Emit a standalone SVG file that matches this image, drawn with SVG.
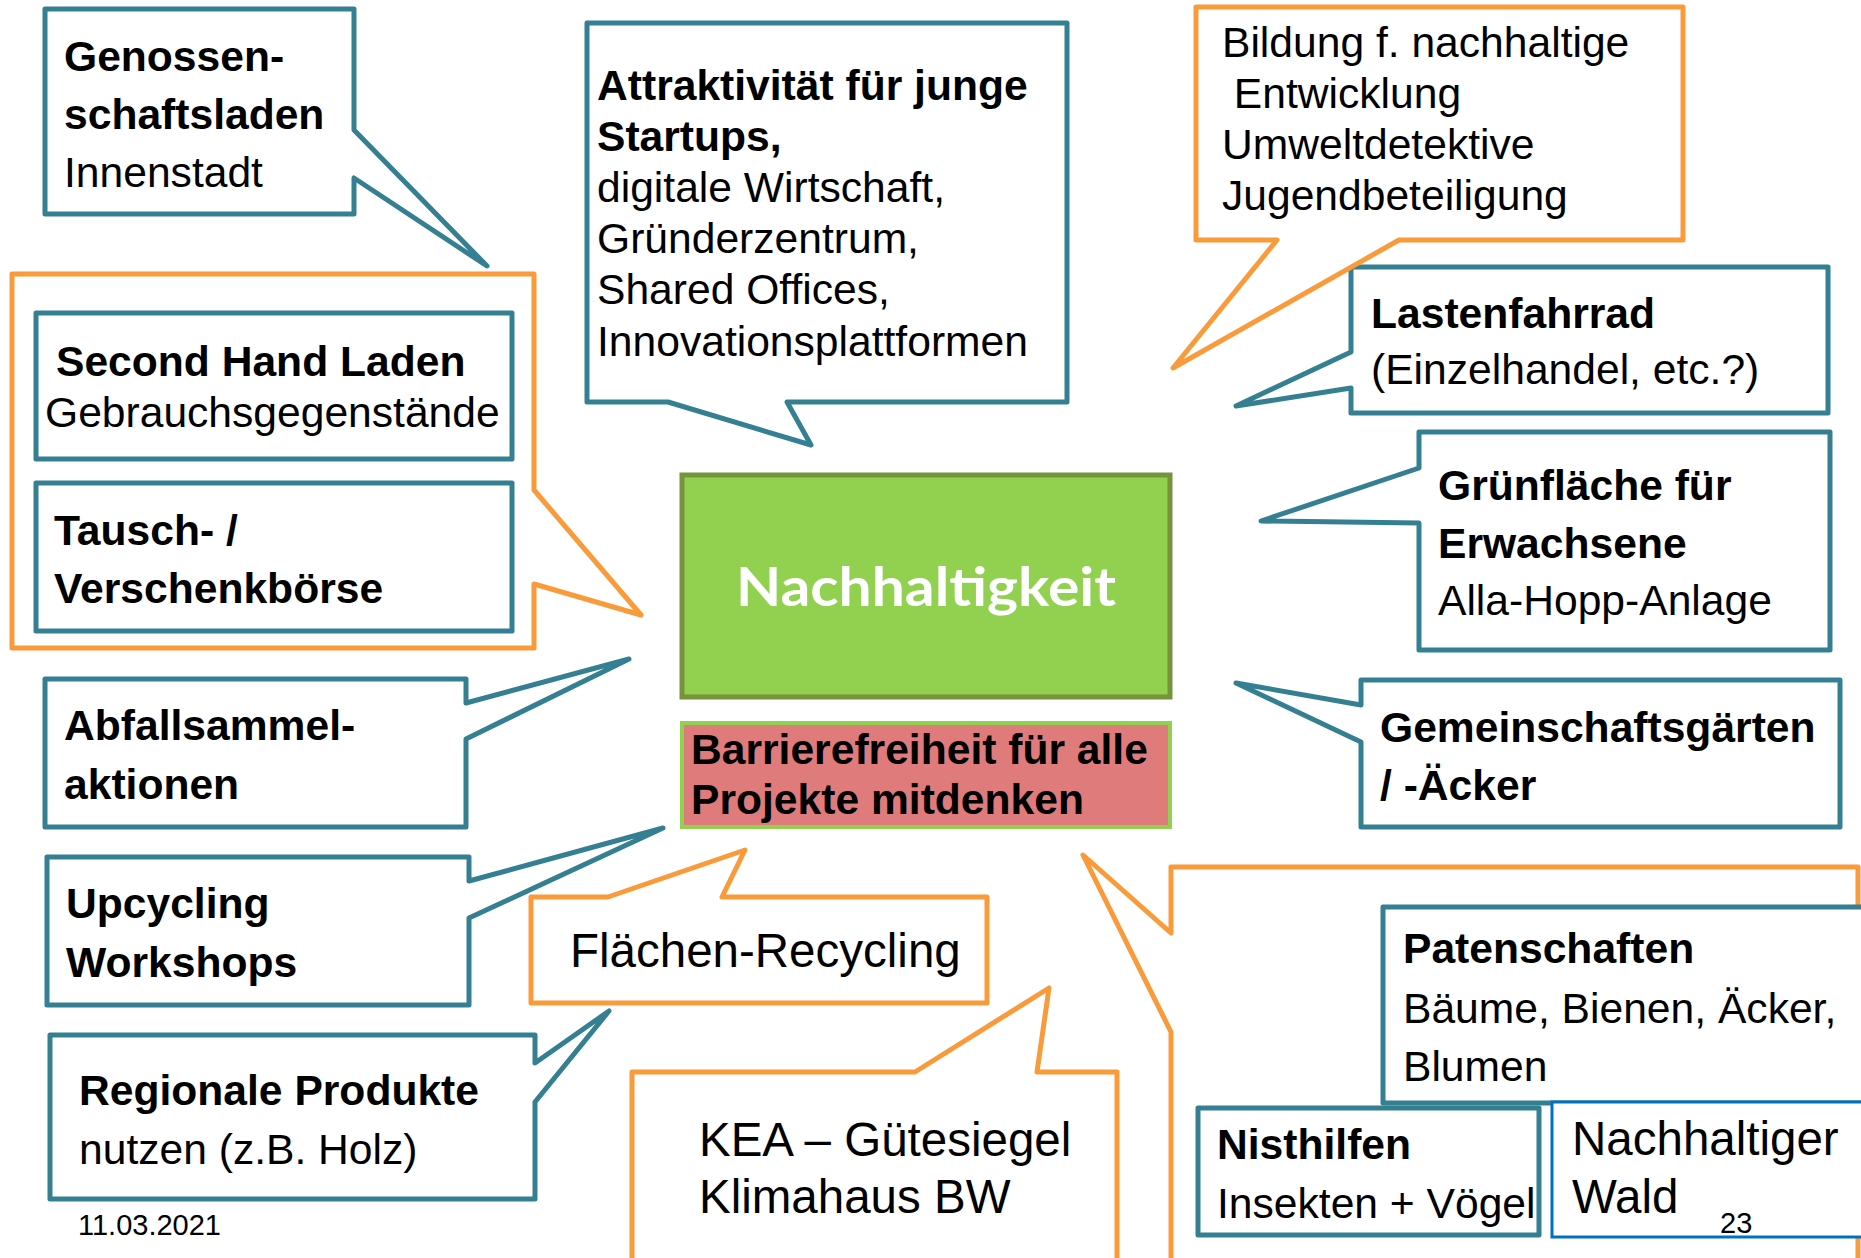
<svg xmlns="http://www.w3.org/2000/svg" width="1861" height="1258" viewBox="0 0 1861 1258">
<style>
.teal{fill:#fff;stroke:#357F92;stroke-width:5;stroke-linejoin:round}
.orange{fill:#fff;stroke:#F99A3B;stroke-width:5;stroke-linejoin:round}
.blue{fill:#fff;stroke:#0070C0;stroke-width:3}
text{font-family:'Liberation Sans',Arial,sans-serif;font-size:42.6px;fill:#000}
.b{font-weight:bold}
.l{font-size:47.5px}
.s{font-size:29px}
</style>
<rect width="1861" height="1258" fill="#fff"/>
<g id="connectors"></g>

<g id="genossenschaftsladen">
<path class="teal" d="M45,9 H354 V130 L487,266 L354,178 V214 H45 Z"/>
<text class="b" x="64" y="71">Genossen-</text>
<text class="b" x="64" y="129">schaftsladen</text>
<text x="64" y="187">Innenstadt</text>
</g>

<g id="tausch-gruppe">
<path class="orange" d="M12,274 H534 V490 L641,615 L534,584 V648 H12 Z"/>
</g>
<g id="second-hand">
<rect class="teal" x="36" y="313" width="476" height="146"/>
<text class="b" x="56" y="376">Second Hand Laden</text>
<text x="45" y="427">Gebrauchsgegenstände</text>
</g>
<g id="tauschboerse">
<rect class="teal" x="36" y="483" width="476" height="148"/>
<text class="b" x="54" y="545">Tausch- /</text>
<text class="b" x="54" y="603">Verschenkbörse</text>
</g>

<g id="startups">
<path class="teal" d="M587,23 H1067 V402 H787 L811,445 L668,402 H587 Z"/>
<text class="b" x="597" y="100">Attraktivität für junge</text>
<text class="b" x="597" y="151">Startups,</text>
<text x="597" y="202">digitale Wirtschaft,</text>
<text x="597" y="253">Gründerzentrum,</text>
<text x="597" y="304">Shared Offices,</text>
<text x="597" y="356">Innovationsplattformen</text>
</g>

<g id="lastenfahrrad">
<path class="teal" d="M1351,267 H1828 V413 H1351 V388 L1236,406 L1351,352 Z"/>
<text class="b" x="1371" y="328">Lastenfahrrad</text>
<text x="1371" y="384">(Einzelhandel, etc.?)</text>
</g>

<g id="bildung">
<path class="orange" d="M1196,7 H1683 V240 H1399 L1173,368 L1277,240 H1196 Z"/>
<text x="1222" y="57">Bildung f. nachhaltige</text>
<text x="1222" y="108" xml:space="preserve"> Entwicklung</text>
<text x="1222" y="159">Umweltdetektive</text>
<text x="1222" y="210">Jugendbeteiligung</text>
</g>

<g id="nachhaltigkeit">
<rect x="682" y="475" width="488" height="222" fill="#92D050" stroke="#77933C" stroke-width="5"/>
<text x="736" y="606" textLength="380" lengthAdjust="spacingAndGlyphs" style="font-family:Lato,'Open Sans',sans-serif;font-weight:bold;font-size:54px;fill:#fff">Nachhaltigkeit</text>
</g>

<g id="barrierefreiheit">
<rect x="682" y="723" width="488" height="104" fill="#E07B7B" stroke="#92D050" stroke-width="4"/>
<text class="b" x="691" y="764">Barrierefreiheit für alle</text>
<text class="b" x="691" y="814">Projekte mitdenken</text>
</g>

<g id="gruenflaeche">
<path class="teal" d="M1419,432 H1830 V650 H1419 V523 L1261,521 L1419,468 Z"/>
<text class="b" x="1438" y="500">Grünfläche für</text>
<text class="b" x="1438" y="558">Erwachsene</text>
<text x="1438" y="615">Alla-Hopp-Anlage</text>
</g>

<g id="gemeinschaftsgaerten">
<path class="teal" d="M1361,680 H1840 V827 H1361 V742 L1236,683 L1361,705 Z"/>
<text class="b" x="1380" y="742">Gemeinschaftsgärten</text>
<text class="b" x="1380" y="800">/ -Äcker</text>
</g>

<g id="abfallsammelaktionen">
<path class="teal" d="M45,679 H466 V703 L629,659 L466,739 V827 H45 Z"/>
<text class="b" x="64" y="740">Abfallsammel-</text>
<text class="b" x="64" y="799">aktionen</text>
</g>

<g id="upcycling">
<path class="teal" d="M47,857 H469 V881 L663,828 L469,918 V1005 H47 Z"/>
<text class="b" x="66" y="918">Upcycling</text>
<text class="b" x="66" y="977">Workshops</text>
</g>

<g id="regionale-produkte">
<path class="teal" d="M50,1035 H535 V1063 L609,1011 L535,1102 V1199 H50 Z"/>
<text class="b" x="79" y="1105">Regionale Produkte</text>
<text x="79" y="1164">nutzen (z.B. Holz)</text>
</g>

<g id="flaechen-recycling">
<path class="orange" d="M531,897 H608 L745,850 L722,897 H987 V1003 H531 Z"/>
<text class="l" x="570" y="967">Flächen-Recycling</text>
</g>

<g id="kea">
<path class="orange" d="M632,1072 H915 L1049,988 L1037,1072 H1117 V1265 H632 Z"/>
<text class="l" x="699" y="1156">KEA – Gütesiegel</text>
<text class="l" x="699" y="1213">Klimahaus BW</text>
</g>

<g id="natur-gruppe">
<path class="orange" d="M1171,867 H1858 V1265 H1171 V1032 L1083,855 L1171,933 Z"/>
</g>
<g id="patenschaften">
<rect class="teal" x="1383" y="907" width="481" height="196"/>
<text class="b" x="1403" y="963">Patenschaften</text>
<text x="1403" y="1023">Bäume, Bienen, Äcker,</text>
<text x="1403" y="1081">Blumen</text>
</g>
<g id="nisthilfen">
<rect class="teal" x="1198" y="1108" width="341" height="127"/>
<text class="b" x="1217" y="1159">Nisthilfen</text>
<text x="1217" y="1218">Insekten + Vögel</text>
</g>
<g id="nachhaltiger-wald">
<rect class="blue" x="1552" y="1102" width="312" height="135"/>
<text class="l" x="1572" y="1155">Nachhaltiger</text>
<text class="l" x="1572" y="1213">Wald</text>
</g>

<g id="footer">
<text class="s" x="78" y="1235">11.03.2021</text>
<text class="s" x="1720" y="1233">23</text>
</g>
</svg>
